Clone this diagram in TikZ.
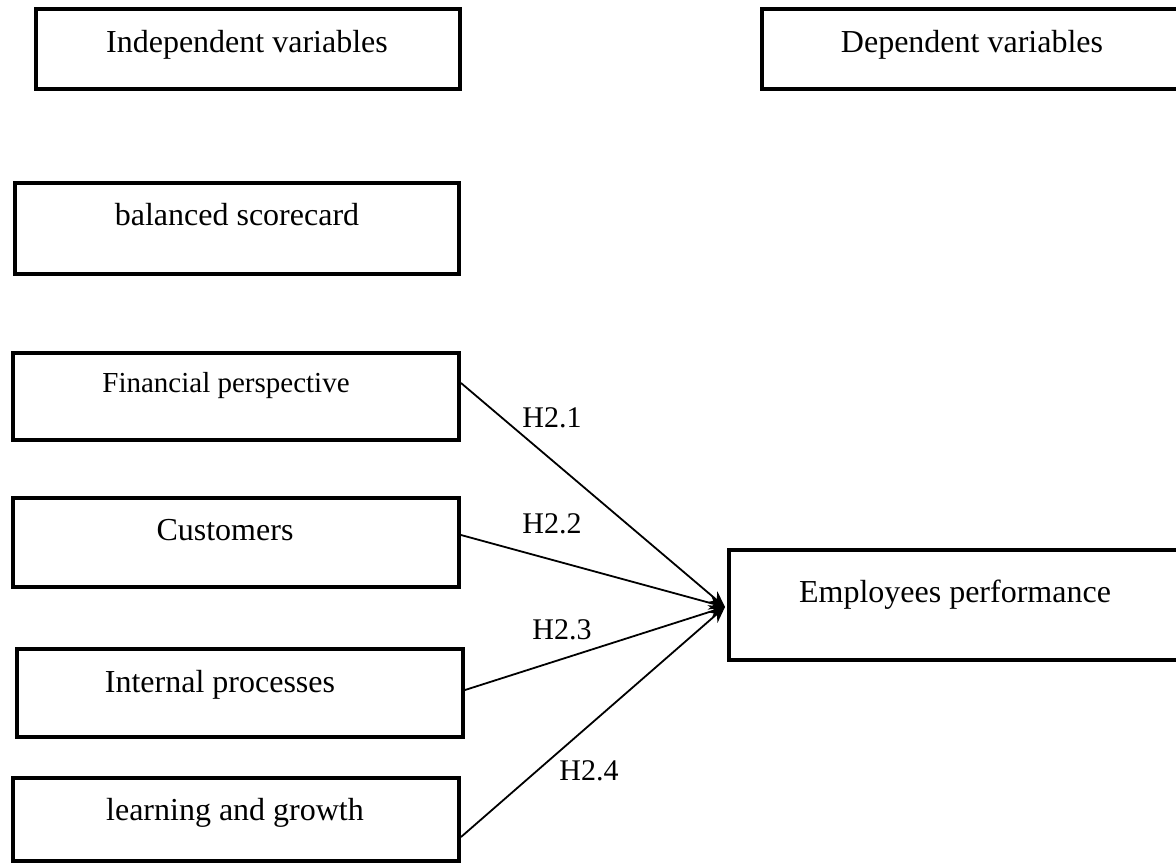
\documentclass[tikz,border=0pt]{standalone}
\usepackage{fontspec}
\setmainfont{Liberation Serif}
\usetikzlibrary{arrows.meta}
\begin{document}
\begin{tikzpicture}[x=1pt,y=-1pt,
  box/.style={draw, line width=4pt, rectangle, inner sep=0pt},
  txt/.style={anchor=base, inner sep=0pt, font=\fontsize{32}{38}\selectfont},
  smalltxt/.style={anchor=base, inner sep=0pt, font=\fontsize{29}{35}\selectfont},
  hlab/.style={anchor=base, inner sep=0pt, font=\fontsize{30}{36}\selectfont},
  arr/.style={line width=1.8pt, -{Stealth[length=16pt,width=14pt]}}]
\useasboundingbox (0,0) rectangle (1176,867);
\clip (0,0) rectangle (1176,867);
% boxes
\node[box, minimum width=424pt, minimum height=80pt] (ind) at (248,49) {};
\node[box, minimum width=430pt, minimum height=80pt] (dep) at (977,49) {};
\node[box, minimum width=444pt, minimum height=91pt] (bsc) at (237,228.5) {};
\node[box, minimum width=446pt, minimum height=87pt] (fin) at (236,396.5) {};
\node[box, minimum width=446pt, minimum height=89pt] (cus) at (236,542.5) {};
\node[box, minimum width=446pt, minimum height=88pt] (int) at (240,693) {};
\node[box, minimum width=446pt, minimum height=83pt] (lrn) at (236,819.5) {};
\node[box, minimum width=462pt, minimum height=110pt] (emp) at (960,605) {};
% texts
\node[txt] (tind) at (247,53) {Independent variables};
\node[txt] (tdep) at (972,53) {Dependent variables};
\node[txt] (tbsc) at (237,225) {balanced scorecard};
\node[smalltxt] (tfin) at (226,392) {Financial perspective};
\node[txt] (tcus) at (225,540) {Customers};
\node[txt] (tint) at (220,692) {Internal processes};
\node[txt] (tlrn) at (235,820) {learning and growth};
\node[txt] (temp) at (955,602) {Employees performance};
% connectors
\draw[arr] ([yshift=13.5pt]fin.east) -- ([yshift=-2pt,xshift=-2pt]emp.west);
\draw[arr] ([yshift=7.5pt]cus.east) -- ([yshift=-2pt,xshift=-2pt]emp.west);
\draw[arr] ([yshift=3pt]int.east) -- ([yshift=-2pt,xshift=-2pt]emp.west);
\draw[arr] ([yshift=-17.5pt]lrn.east) -- ([yshift=-2pt,xshift=-2pt]emp.west);
% labels
\node[hlab] (h1) at (552,427) {H2.1};
\node[hlab] (h2) at (552,533) {H2.2};
\node[hlab] (h3) at (562,639) {H2.3};
\node[hlab] (h4) at (589,780) {H2.4};
\end{tikzpicture}
\end{document}
